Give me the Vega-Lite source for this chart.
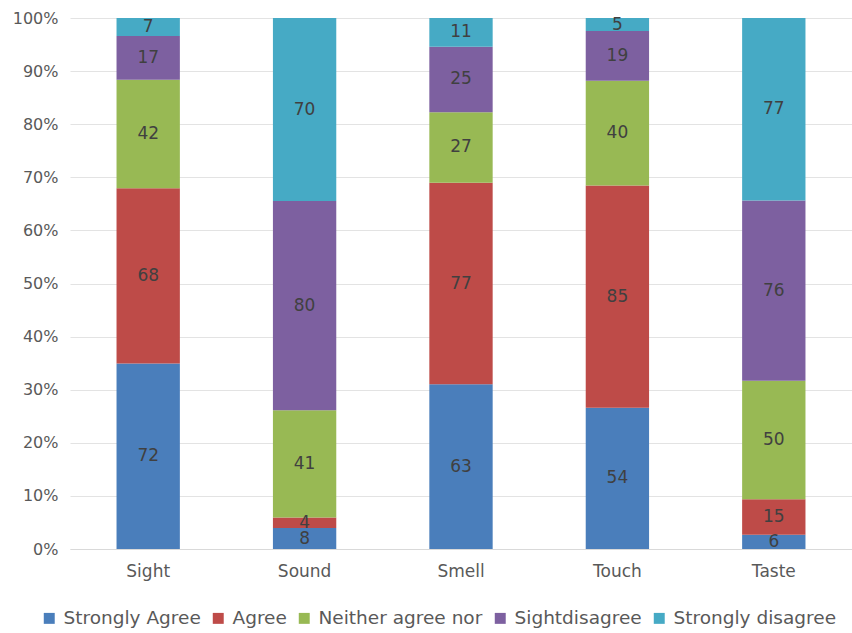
{
  "$schema": "https://vega.github.io/schema/vega-lite/v6.json",
  "width": 782,
  "height": 531,
  "autosize": "none",
  "padding": {"left": 70, "top": 18, "right": 0, "bottom": 84},
  "config": {
    "view": {"stroke": null},
    "font": "DejaVu Sans",
    "axis": {"labelFont": "DejaVu Sans", "labelColor": "#595959"}
  },
  "data": {
    "values": [
      {"sense": "Sight", "response": "Strongly Agree", "order": 1, "count": 72},
      {"sense": "Sight", "response": "Agree", "order": 2, "count": 68},
      {"sense": "Sight", "response": "Neither agree nor", "order": 3, "count": 42},
      {"sense": "Sight", "response": "Sightdisagree", "order": 4, "count": 17},
      {"sense": "Sight", "response": "Strongly disagree", "order": 5, "count": 7},
      {"sense": "Sound", "response": "Strongly Agree", "order": 1, "count": 8},
      {"sense": "Sound", "response": "Agree", "order": 2, "count": 4},
      {"sense": "Sound", "response": "Neither agree nor", "order": 3, "count": 41},
      {"sense": "Sound", "response": "Sightdisagree", "order": 4, "count": 80},
      {"sense": "Sound", "response": "Strongly disagree", "order": 5, "count": 70},
      {"sense": "Smell", "response": "Strongly Agree", "order": 1, "count": 63},
      {"sense": "Smell", "response": "Agree", "order": 2, "count": 77},
      {"sense": "Smell", "response": "Neither agree nor", "order": 3, "count": 27},
      {"sense": "Smell", "response": "Sightdisagree", "order": 4, "count": 25},
      {"sense": "Smell", "response": "Strongly disagree", "order": 5, "count": 11},
      {"sense": "Touch", "response": "Strongly Agree", "order": 1, "count": 54},
      {"sense": "Touch", "response": "Agree", "order": 2, "count": 85},
      {"sense": "Touch", "response": "Neither agree nor", "order": 3, "count": 40},
      {"sense": "Touch", "response": "Sightdisagree", "order": 4, "count": 19},
      {"sense": "Touch", "response": "Strongly disagree", "order": 5, "count": 5},
      {"sense": "Taste", "response": "Strongly Agree", "order": 1, "count": 6},
      {"sense": "Taste", "response": "Agree", "order": 2, "count": 15},
      {"sense": "Taste", "response": "Neither agree nor", "order": 3, "count": 50},
      {"sense": "Taste", "response": "Sightdisagree", "order": 4, "count": 76},
      {"sense": "Taste", "response": "Strongly disagree", "order": 5, "count": 77}
    ]
  },
  "transform": [
    {"stack": "count", "groupby": ["sense"], "offset": "normalize", "sort": [{"field": "order", "order": "ascending"}], "as": ["y0", "y1"]},
    {"calculate": "(datum.y0 + datum.y1) / 2", "as": "ymid"}
  ],
  "encoding": {
    "x": {
      "field": "sense", "type": "nominal",
      "sort": ["Sight", "Sound", "Smell", "Touch", "Taste"],
      "scale": {"paddingInner": 0.595, "paddingOuter": 0.2975},
      "axis": {"title": null, "labelAngle": 0, "labelFontSize": 17, "labelPadding": 14, "ticks": false, "domainColor": "#d9d9d9", "grid": false}
    }
  },
  "layer": [
    {
      "mark": {"type": "bar"},
      "encoding": {
        "y": {
          "field": "y0", "type": "quantitative",
          "scale": {"domain": [0, 1], "nice": false},
          "axis": {"title": null, "format": ".0%", "values": [0,0.1,0.2,0.3,0.4,0.5,0.6,0.7,0.8,0.9,1], "labelOverlap": false, "labelFontSize": 16, "labelPadding": 12, "ticks": false, "domain": false, "gridColor": "#e3e3e3"}
        },
        "y2": {"field": "y1"},
        "color": {
          "field": "response", "type": "nominal",
          "sort": ["Strongly Agree", "Agree", "Neither agree nor", "Sightdisagree", "Strongly disagree"],
          "scale": {
            "domain": ["Strongly Agree", "Agree", "Neither agree nor", "Sightdisagree", "Strongly disagree"],
            "range": ["#4a7ebb", "#be4b48", "#98b954", "#7d60a0", "#46aac5"]
          },
          "legend": {
            "title": null, "orient": "none", "direction": "horizontal",
            "legendX": -30, "legendY": 591,
            "symbolType": "square", "symbolSize": 120, "symbolStrokeWidth": 0,
            "labelFontSize": 18.5, "labelColor": "#595959", "labelFont": "DejaVu Sans",
            "columnPadding": 8, "symbolOffset": 0, "labelOffset": 5, "labelLimit": 300
          }
        }
      }
    },
    {
      "mark": {"type": "text", "fontSize": 17, "color": "#404040", "baseline": "middle"},
      "encoding": {
        "y": {"field": "ymid", "type": "quantitative"},
        "text": {"field": "count", "type": "quantitative"}
      }
    }
  ]
}
